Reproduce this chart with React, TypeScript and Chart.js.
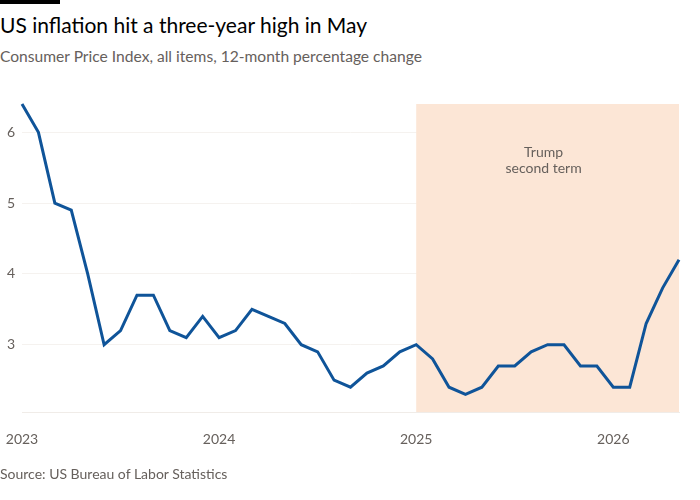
import React, { useEffect, useRef } from "react";
import { Chart, registerables } from "chart.js";

Chart.register(...registerables);

// Monthly CPI, 12-month % change, Jan 2023 – May 2026
const months: string[] = [
  "Jan 2023", "Feb 2023", "Mar 2023", "Apr 2023", "May 2023", "Jun 2023",
  "Jul 2023", "Aug 2023", "Sep 2023", "Oct 2023", "Nov 2023", "Dec 2023",
  "Jan 2024", "Feb 2024", "Mar 2024", "Apr 2024", "May 2024", "Jun 2024",
  "Jul 2024", "Aug 2024", "Sep 2024", "Oct 2024", "Nov 2024", "Dec 2024",
  "Jan 2025", "Feb 2025", "Mar 2025", "Apr 2025", "May 2025", "Jun 2025",
  "Jul 2025", "Aug 2025", "Sep 2025", "Oct 2025", "Nov 2025", "Dec 2025",
  "Jan 2026", "Feb 2026", "Mar 2026", "Apr 2026", "May 2026",
];

const cpiChange: number[] = [
  6.4, 6.0, 5.0, 4.9, 4.0, 3.0, 3.2, 3.7, 3.7, 3.2, 3.1, 3.4,
  3.1, 3.2, 3.5, 3.4, 3.3, 3.0, 2.9, 2.5, 2.4, 2.6, 2.7, 2.9,
  3.0, 2.8, 2.4, 2.3, 2.4, 2.7, 2.7, 2.9, 3.0, 3.0, 2.7, 2.7,
  2.4, 2.4, 3.3, 3.8, 4.2,
];

const yTicks: number[] = [3, 4, 5, 6];
const yearTickIndex: number[] = [0, 12, 24, 36];
const yearTickLabels: string[] = ["2023", "2024", "2025", "2026"];

// Shaded period: second Trump term, from Jan 2025 to the latest month
const termStart = "Jan 2025";
const termLabel: string[] = ["Trump", "second term"];

const FONT = "Lato, 'Open Sans', sans-serif";
const GREY = "#66605c";

const termShade = {
  id: "termShade",
  beforeDatasetsDraw(chart: any) {
    const { ctx, chartArea, scales } = chart;
    const x0 = scales.x.getPixelForValue(months.indexOf(termStart));
    const x1 = scales.x.getPixelForValue(months.length - 1);
    ctx.save();
    ctx.fillStyle = "#fce6d6";
    ctx.fillRect(x0, chartArea.top, x1 - x0, chartArea.bottom - chartArea.top);
    ctx.fillStyle = GREY;
    ctx.font = `14px ${FONT}`;
    ctx.textAlign = "center";
    ctx.textBaseline = "middle";
    const cx = (x0 + x1) / 2 - 4;
    termLabel.forEach((line, i) => {
      ctx.fillText(line, cx, chartArea.top + 48 + i * 16);
    });
    ctx.restore();
  },
};

export default function App() {
  const ref = useRef<HTMLCanvasElement | null>(null);

  useEffect(() => {
    document.body.style.margin = "0";
    if (!ref.current) return;
    const chart = new Chart(ref.current, {
      type: "line",
      data: {
        labels: months,
        datasets: [
          {
            data: cpiChange.map((v, i) => ({ x: i, y: v })),
            borderColor: "#0f5499",
            borderWidth: 3,
            pointRadius: 0,
            tension: 0,
            clip: false as any,
          },
        ],
      },
      options: {
        animation: false,
        responsive: false,
        maintainAspectRatio: false,
        layout: { padding: { left: 7, right: 21, top: 104, bottom: 48 } },
        plugins: { legend: { display: false }, tooltip: { enabled: false } },
        scales: {
          x: {
            type: "linear",
            min: 0,
            max: months.length - 1,
            afterBuildTicks: (s: any) => {
              s.ticks = yearTickIndex.map((v) => ({ value: v }));
            },
            afterFit: (s: any) => {
              s.height = 40;
              s.paddingLeft = 0;
              s.paddingRight = 0;
            },
            ticks: {
              autoSkip: false,
              maxRotation: 0,
              padding: 19,
              color: GREY,
              font: { family: FONT, size: 14 },
              callback: (v: any) => yearTickLabels[yearTickIndex.indexOf(Number(v))] ?? "",
            },
            grid: { display: false, drawTicks: false },
            border: { display: true, color: "#f0ece8" },
          },
          y: {
            min: 2.05,
            max: 6.4,
            afterBuildTicks: (s: any) => {
              s.ticks = yTicks.map((v) => ({ value: v }));
            },
            afterFit: (s: any) => {
              s.width = 15;
              s.paddingTop = 0;
              s.paddingBottom = 0;
            },
            ticks: {
              crossAlign: "far",
              padding: 0,
              color: GREY,
              font: { family: FONT, size: 14 },
            },
            grid: { color: "#f5f2ef", drawTicks: false },
            border: { display: false },
          },
        },
      },
      plugins: [termShade],
    });
    return () => chart.destroy();
  }, []);

  return (
    <div style={{ position: "fixed", left: 0, top: 0, width: 700, height: 500, background: "#fff", fontFamily: FONT }}>
      <div style={{ position: "absolute", left: 0, top: 0, width: 60, height: 4, background: "#000" }} />
      <div style={{ position: "absolute", left: 0, top: 12, fontSize: 21, color: "#000", whiteSpace: "nowrap" }}>
        US inflation hit a three-year high in May
      </div>
      <div style={{ position: "absolute", left: 0, top: 47, fontSize: 15.6, color: GREY, whiteSpace: "nowrap" }}>
        Consumer Price Index, all items, 12-month percentage change
      </div>
      <canvas ref={ref} width={700} height={500} style={{ position: "absolute", left: 0, top: 0 }} />
      <div style={{ position: "absolute", left: 0, top: 465, fontSize: 14, color: GREY, whiteSpace: "nowrap" }}>
        Source: US Bureau of Labor Statistics
      </div>
    </div>
  );
}
